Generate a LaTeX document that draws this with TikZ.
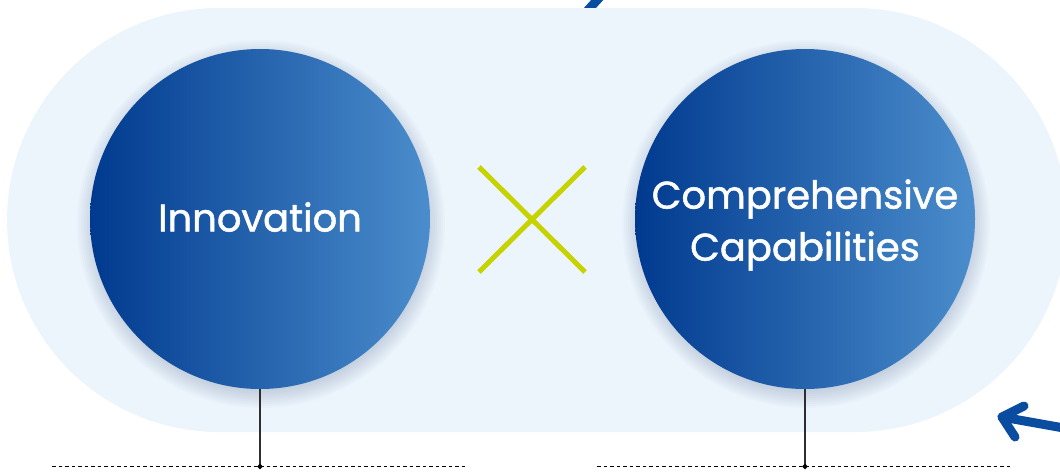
\documentclass[tikz,border=0pt]{standalone}
\usepackage{fontspec}
\newfontfamily\labelfont[FakeBold=1.3]{Poppins}
\usetikzlibrary{shapes.geometric}
\definecolor{bgblue}{HTML}{EDF5FC}
\definecolor{deepblue}{HTML}{003A8F}
\definecolor{lightblue}{HTML}{4B8DCC}
\definecolor{arrowblue}{HTML}{0A4CA0}
\definecolor{limegreen}{HTML}{C6D300}
\definecolor{stemgray}{HTML}{2E2E2E}
\definecolor{shadowblue}{HTML}{3A5A85}
\tikzset{
  bigcircle/.style={circle, minimum size=340pt, inner sep=0pt,
    left color=deepblue, right color=lightblue},
  circletext/.style={text=white, align=center,
    font=\labelfont\fontsize{38.5}{52}\selectfont},
  stem/.style={draw=stemgray, line width=1.4pt},
  baseline rule/.style={draw=black, line width=1pt, dash pattern=on 3.5pt off 3pt},
  crossline/.style={draw=limegreen, line width=5pt},
  bluearrow/.style={draw=arrowblue, line width=9pt, line cap=round, line join=round},
  joint/.style={diamond, fill=black, inner sep=0pt, minimum size=6pt},
  softshadow/.style={fill=shadowblue, fill opacity=0.022}
}
\begin{document}
\begin{tikzpicture}[x=1pt,y=-1pt]
\useasboundingbox (0,0) rectangle (1060,472);
\clip (0,0) rectangle (1060,472);

% stroke entering from the top, tucked behind the panel
\coordinate (topA) at (580,19);
\coordinate (topB) at (608,-12);
\draw[bluearrow, line cap=butt] (topA) -- (topB);

% pale rounded panel
\fill[bgblue, rounded corners=212pt] (7,8) rectangle (1067,432);

% soft shadows under the circles
\coordinate (innoShade) at (261,224);
\coordinate (compShade) at (806,224);
\foreach \r in {164,166,...,184} {
  \fill[softshadow] (innoShade) circle[radius=\r pt];
  \fill[softshadow] (compShade) circle[radius=\r pt];
}

% the two circles and their captions
\node[bigcircle] (inno) at (260,219) {};
\node[bigcircle] (comp) at (805,219) {};
\node[circletext] (innoText) at (260,217) {Innovation};
\node[circletext] (compText) at (805,225) {Comprehensive\\Capabilities};

% multiplication cross
\coordinate (xa) at (479,167);
\coordinate (xb) at (585,272);
\coordinate (xc) at (585,167);
\coordinate (xd) at (479,272);
\draw[crossline] (xa) -- (xb);
\draw[crossline] (xc) -- (xd);

% stems down to the dotted rules
\coordinate (innoFoot) at (260,466.5);
\coordinate (compFoot) at (805,466.5);
\draw[stem] (inno.south) -- (innoFoot);
\draw[stem] (comp.south) -- (compFoot);

\coordinate (ruleAl) at (52,466.5);
\coordinate (ruleAr) at (468,466.5);
\coordinate (ruleBl) at (597,466.5);
\coordinate (ruleBr) at (1013,466.5);
\draw[baseline rule] (ruleAl) -- (ruleAr);
\draw[baseline rule] (ruleBl) -- (ruleBr);
\node[joint] (innoJoint) at (innoFoot) {};
\node[joint] (compJoint) at (compFoot) {};

% arrow pointing back at the panel
\coordinate (tip) at (1002,417);
\coordinate (tail) at (1075,430);
\coordinate (armUp) at (1024,406);
\coordinate (armDown) at (1015,437);
\draw[bluearrow] (tail) -- (tip);
\draw[bluearrow] (armUp) -- (tip) -- (armDown);
\end{tikzpicture}
\end{document}
